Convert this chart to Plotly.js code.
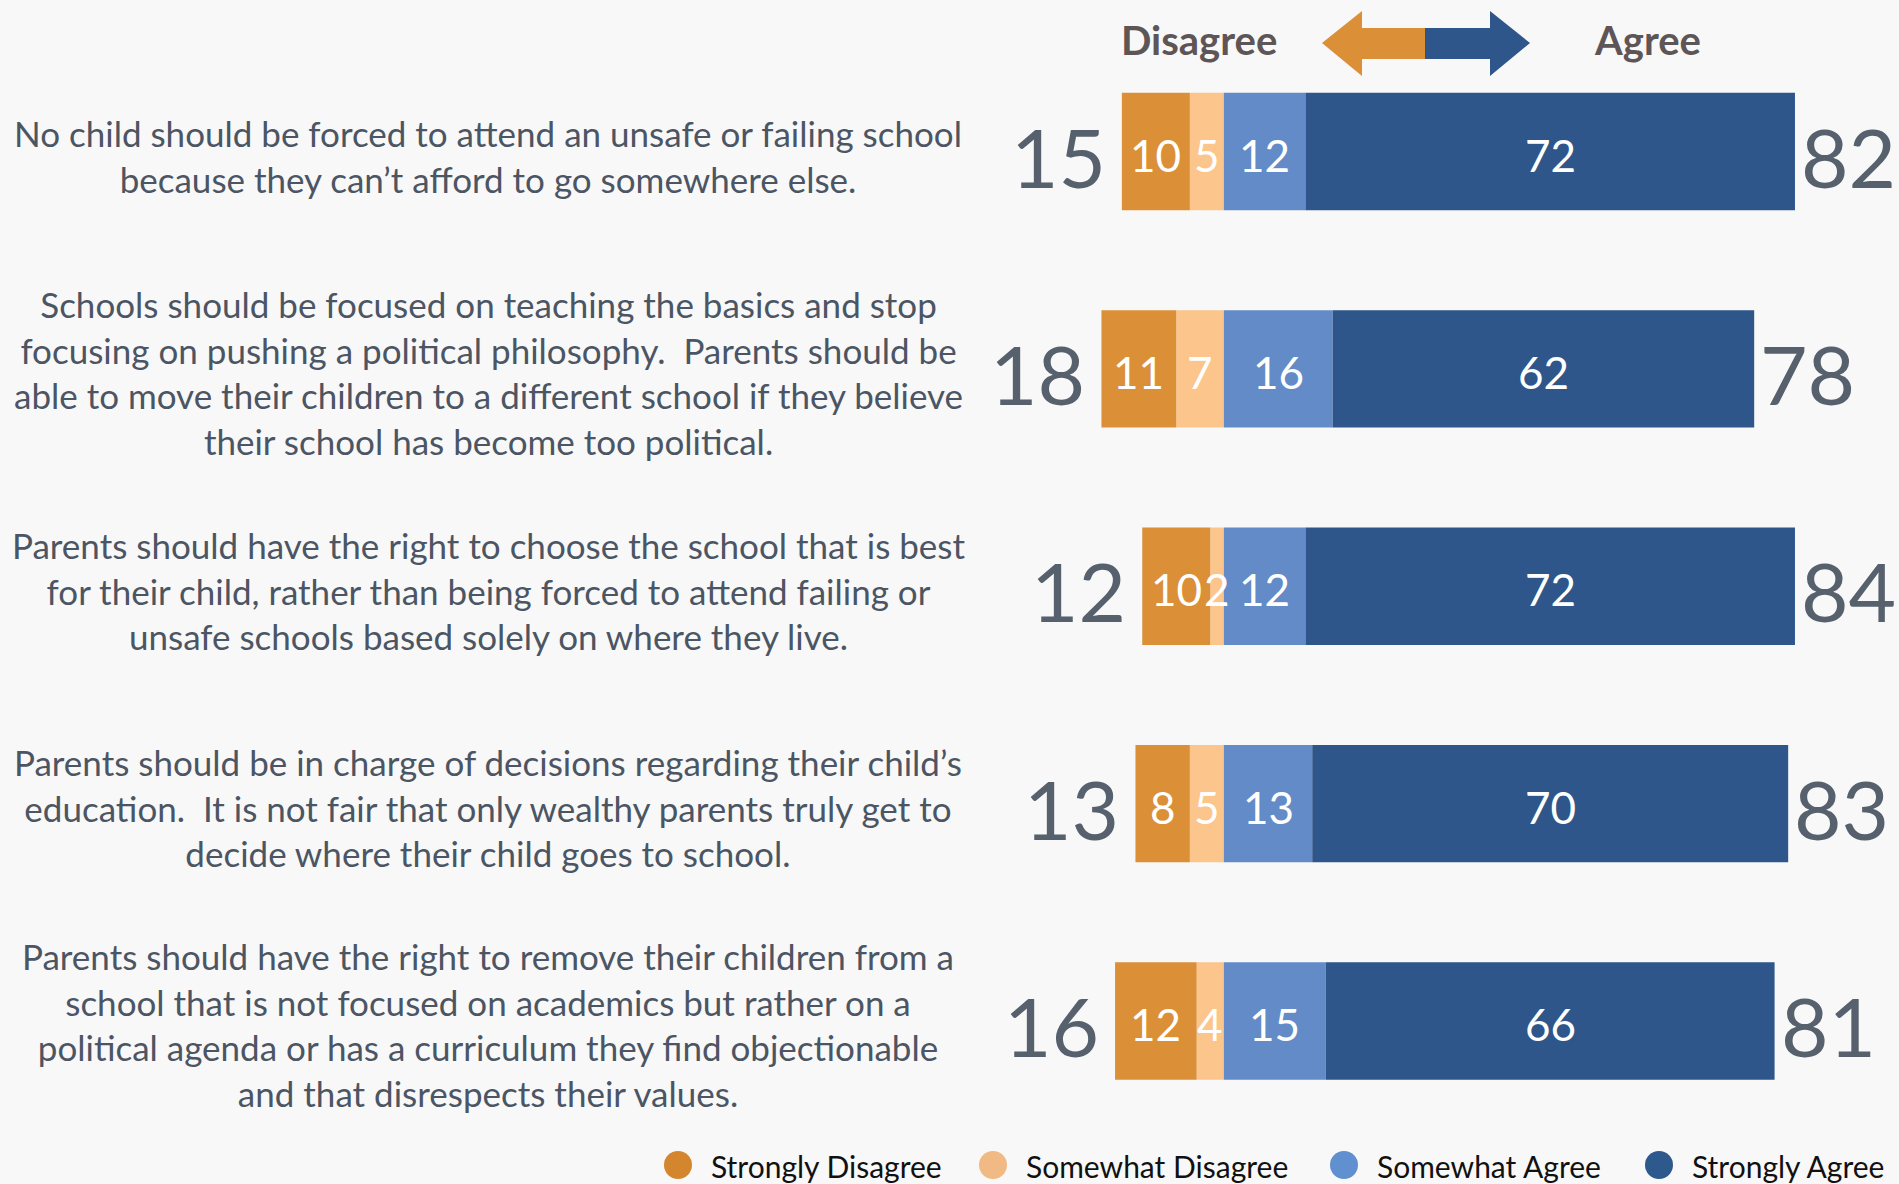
<!DOCTYPE html>
<html>
<head>
<meta charset="utf-8">
<script src="https://cdn.plot.ly/plotly-3.0.1.min.js"></script>
<style>
  html, body { margin: 0; padding: 0; background: #f8f8f8; }
  #chart { width: 1899px; height: 1184px; }
</style>
</head>
<body>
<div id="chart"></div>
<script>
// ---------------- DATA ----------------
const questions = [
  "No child should be forced to attend an unsafe or failing school<br>because they can’t afford to go somewhere else.",
  "Schools should be focused on teaching the basics and stop<br>focusing on pushing a political philosophy.  Parents should be<br>able to move their children to a different school if they believe<br>their school has become too political.",
  "Parents should have the right to choose the school that is best<br>for their child, rather than being forced to attend failing or<br>unsafe schools based solely on where they live.",
  "Parents should be in charge of decisions regarding their child’s<br>education.  It is not fair that only wealthy parents truly get to<br>decide where their child goes to school.",
  "Parents should have the right to remove their children from a<br>school that is not focused on academics but rather on a<br>political agenda or has a curriculum they find objectionable<br>and that disrespects their values."
];
const stronglyDisagree = [10, 11, 10, 8, 12];
const somewhatDisagree = [5, 7, 2, 5, 4];
const somewhatAgree    = [12, 16, 12, 13, 15];
const stronglyAgree    = [72, 62, 72, 70, 66];
const totalDisagree    = [15, 18, 12, 13, 16];
const totalAgree       = [82, 78, 84, 83, 81];
const seriesNames = ["Strongly Disagree", "Somewhat Disagree", "Somewhat Agree", "Strongly Agree"];
const headerLeft = "Disagree";
const headerRight = "Agree";

// ---------------- STYLE ----------------
const W = 1899, H = 1184;
const colors = ["#db8f37", "#fbc58b", "#628bc7", "#2e568a"];
const legendColors = ["#d4862f", "#f1b983", "#6090cf", "#2d598c"];
const FONT = "Lato, 'Open Sans', sans-serif";
const bg = "#f8f8f8";
const px = v => v / W;
const py = v => 1 - v / H;

const barW = 0.54;
const traces = [];
// inner segments first so the relative stacking puts them next to zero
traces.push({type: 'bar', orientation: 'h', name: seriesNames[1], y: questions,
  x: somewhatDisagree.map(v => -v), marker: {color: colors[1]}, width: barW, showlegend: false, hoverinfo: 'skip'});
traces.push({type: 'bar', orientation: 'h', name: seriesNames[0], y: questions,
  x: stronglyDisagree.map(v => -v), marker: {color: colors[0]}, width: barW, showlegend: false, hoverinfo: 'skip'});
traces.push({type: 'bar', orientation: 'h', name: seriesNames[2], y: questions,
  x: somewhatAgree, marker: {color: colors[2]}, width: barW, showlegend: false, hoverinfo: 'skip'});
traces.push({type: 'bar', orientation: 'h', name: seriesNames[3], y: questions,
  x: stronglyAgree, marker: {color: colors[3]}, width: barW, showlegend: false, hoverinfo: 'skip'});

const annotations = [];
const valFont = {family: FONT, size: 44, color: '#ffffff'};
questions.forEach((q, i) => {
  const sd = stronglyDisagree[i], swd = somewhatDisagree[i], swa = somewhatAgree[i], sa = stronglyAgree[i];
  // question text
  annotations.push({xref: 'paper', x: px(488), y: q, yref: 'y', text: q, showarrow: false,
    xanchor: 'center', yanchor: 'middle', align: 'center', yshift: -4,
    font: {family: FONT, size: 35, color: '#4b5563'}});
  // segment values
  annotations.push({x: -swd - sd / 2, y: q, text: String(sd), showarrow: false, font: valFont, yshift: -3});
  annotations.push({x: -swd / 2, y: q, text: String(swd), showarrow: false, font: valFont, yshift: -3});
  annotations.push({x: swa / 2, y: q, text: String(swa), showarrow: false, font: valFont, yshift: -3});
  annotations.push({x: swa + sa / 2, y: q, text: String(sa), showarrow: false, font: valFont, yshift: -3});
  // totals
  annotations.push({x: -(sd + swd), y: q, text: String(totalDisagree[i]), showarrow: false,
    xanchor: 'right', xshift: -14, yshift: -4, font: {family: FONT, size: 82, color: '#56616d'}});
  annotations.push({x: swa + sa, y: q, text: String(totalAgree[i]), showarrow: false,
    xanchor: 'left', xshift: 4, yshift: -4, font: {family: FONT, size: 82, color: '#56616d'}});
});
// header
annotations.push({xref: 'paper', yref: 'paper', x: px(1199), y: py(40), text: '<b>' + headerLeft + '</b>',
  showarrow: false, xanchor: 'center', yanchor: 'middle', font: {family: FONT, size: 40, color: '#5e5557'}});
annotations.push({xref: 'paper', yref: 'paper', x: px(1647), y: py(40), text: '<b>' + headerRight + '</b>',
  showarrow: false, xanchor: 'center', yanchor: 'middle', font: {family: FONT, size: 40, color: '#5e5557'}});

// arrow shapes
function pathFrom(pts) {
  return 'M ' + pts.map(p => px(p[0]) + ',' + py(p[1])).join(' L ') + ' Z';
}
const shapes = [
  {type: 'path', xref: 'paper', yref: 'paper', line: {width: 0}, fillcolor: colors[0],
    path: pathFrom([[1322, 43], [1362, 11], [1362, 28], [1425, 28], [1425, 59], [1362, 59], [1362, 76]])},
  {type: 'path', xref: 'paper', yref: 'paper', line: {width: 0}, fillcolor: colors[3],
    path: pathFrom([[1425, 28], [1490, 28], [1490, 11], [1530, 43], [1490, 76], [1490, 59], [1425, 59]])}
];

// legend (circles + labels)
const legendCircleX = [678, 993, 1344, 1659];
const legendY = 1165, legendR = 14;
seriesNames.forEach((n, i) => {
  const cx = legendCircleX[i];
  shapes.push({type: 'circle', xref: 'paper', yref: 'paper', line: {width: 0}, fillcolor: legendColors[i],
    x0: px(cx - legendR), x1: px(cx + legendR), y0: py(legendY + legendR), y1: py(legendY - legendR)});
  annotations.push({xref: 'paper', yref: 'paper', x: px(cx + 31), y: py(legendY + 1), text: n,
    showarrow: false, xanchor: 'left', yanchor: 'middle', font: {family: FONT, size: 30, color: '#111111'}});
});

const layout = {
  width: W, height: H,
  margin: {l: 0, r: 0, t: 0, b: 0},
  paper_bgcolor: bg, plot_bgcolor: bg,
  barmode: 'relative',
  showlegend: false,
  xaxis: {range: [-180, 99.3], visible: false, fixedrange: true, zeroline: false},
  yaxis: {type: 'category', categoryarray: questions, categoryorder: 'array',
    range: [4.75, -0.697], visible: false, fixedrange: true},
  annotations: annotations,
  shapes: shapes
};

Plotly.newPlot('chart', traces, layout, {staticPlot: true, displayModeBar: false});
</script>
</body>
</html>
